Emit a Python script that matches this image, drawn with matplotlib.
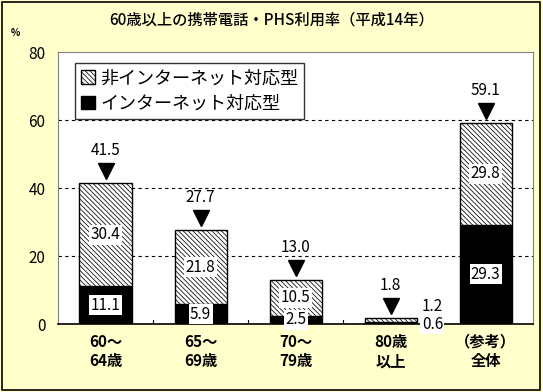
import matplotlib
matplotlib.use("Agg")
import matplotlib.pyplot as plt
import numpy as np

plt.rcParams['font.family'] = ['Noto Sans CJK JP', 'DejaVu Sans']
plt.rcParams['hatch.color'] = '#9a9a9a'
plt.rcParams['hatch.linewidth'] = 0.55

categories = ["60～\n64歳", "65～\n69歳", "70～\n79歳", "80歳\n以上", "（参考）\n全体"]
internet = [11.1, 5.9, 2.5, 0.6, 29.3]
non_internet = [30.4, 21.8, 10.5, 1.2, 29.8]
totals = [41.5, 27.7, 13.0, 1.8, 59.1]
yticks = [0, 20, 40, 60, 80]

fig = plt.figure(figsize=(5.43, 3.92), dpi=100)
fig.patch.set_facecolor('#FFFFCC')
fig.add_artist(plt.Rectangle((0.004, 0.006), 0.99, 0.99, transform=fig.transFigure,
                             fill=False, edgecolor='black', linewidth=1.2))
ax = fig.add_axes([0.107, 0.173, 0.875, 0.694])
ax.set_facecolor('white')

x = np.arange(len(categories))
w = 0.55
ax.bar(x, internet, w, color='black', edgecolor='black', linewidth=1, zorder=3,
       label='インターネット対応型')
ax.bar(x, non_internet, w, bottom=internet, color='white', edgecolor='black',
       hatch='\\\\\\\\\\\\\\', linewidth=1, zorder=3, label='非インターネット対応型')

fs = 11
box = dict(facecolor='white', edgecolor='none', pad=1)
for i in range(len(x)):
    if i == 3:
        ax.text(x[i] + 0.44, internet[i] + non_internet[i] + 3.5, f"{non_internet[i]:.1f}",
                ha='center', va='center', fontsize=fs, zorder=5)
        ax.text(x[i] + 0.44, 0, f"{internet[i]:.1f}", ha='center', va='center',
                fontsize=fs, bbox=box, zorder=5)
    else:
        ax.text(x[i], internet[i] + non_internet[i] / 2, f"{non_internet[i]:.1f}",
                ha='center', va='center', fontsize=fs, bbox=box, zorder=5)
        ax.text(x[i], max(internet[i] / 2, 1.2), f"{internet[i]:.1f}",
                ha='center', va='center', fontsize=fs, bbox=box, zorder=5)
    ax.plot(x[i], totals[i] + 3.6, marker='v', color='black', markersize=12, zorder=5)
    ax.text(x[i], totals[i] + 9.5, f"{totals[i]:.1f}", ha='center', va='center',
            fontsize=fs, zorder=5)

ax.set_xlim(-0.5, len(x) - 0.5)
ax.set_ylim(0, 80)
ax.set_yticks(yticks)
ax.set_yticklabels([str(v) for v in yticks], fontsize=fs)
ax.tick_params(axis='y', length=0, pad=9)
for v in yticks[1:4]:
    ax.axhline(v, color='black', linestyle=(0, (3, 3)), linewidth=0.8, zorder=1)
ax.set_xticks(x)
ax.set_xticklabels(categories, fontsize=fs, fontweight='bold', linespacing=1.25)
ax.tick_params(axis='x', length=0, pad=7)
for b in np.arange(0.5, len(x) - 0.5, 1):
    ax.plot([b, b], [0, 1.2], color='black', linewidth=0.8, zorder=2)

for s in ['top', 'left', 'right']:
    ax.spines[s].set_color('#808080')
ax.spines['bottom'].set_color('black')
ax.spines['bottom'].set_linewidth(1.2)

handles, labels = ax.get_legend_handles_labels()
leg = ax.legend(handles[::-1], labels[::-1], loc='upper left', bbox_to_anchor=(0.035, 0.96),
                fontsize=13, frameon=True, fancybox=False, edgecolor='black',
                handlelength=0.75, handleheight=0.75, handletextpad=0.3, borderpad=0.35,
                labelspacing=0.4, borderaxespad=0)
leg.get_frame().set_linewidth(1)
leg.set_zorder(6)

fig.text(0.5, 0.95, "60歳以上の携帯電話・PHS利用率（平成14年）", ha='center', va='center',
         fontsize=11, fontweight='medium')
fig.text(0.028, 0.915, "%", ha='center', va='center', fontsize=7, fontweight='bold')

fig.savefig("out.png", dpi=100, facecolor=fig.get_facecolor())
